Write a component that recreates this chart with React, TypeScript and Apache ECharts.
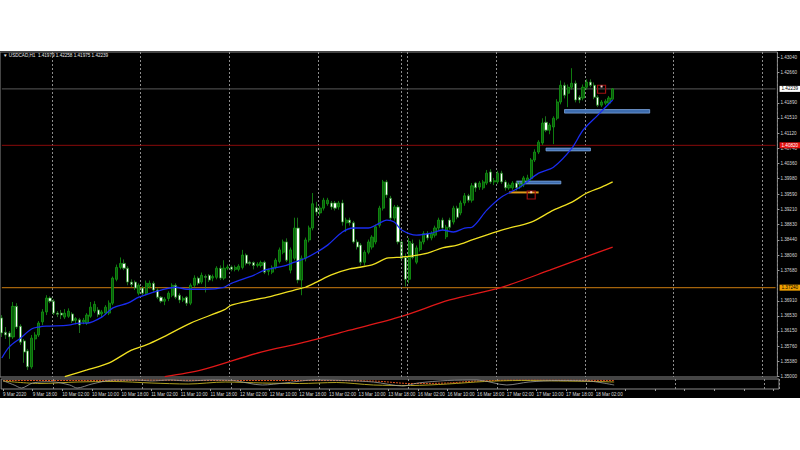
import React, { useEffect, useRef } from "react";
import * as echarts from "echarts";

const titleText = "▼ USDCAD,H1  1.41979 1.42258 1.41975 1.42239";
const timeLabels = ["9 Mar 2020", "9 Mar 18:00", "10 Mar 02:00", "10 Mar 10:00", "10 Mar 18:00", "11 Mar 02:00", "11 Mar 10:00", "11 Mar 18:00", "12 Mar 02:00", "12 Mar 10:00", "12 Mar 18:00", "13 Mar 02:00", "13 Mar 10:00", "13 Mar 18:00", "16 Mar 02:00", "16 Mar 10:00", "16 Mar 18:00", "17 Mar 02:00", "17 Mar 10:00", "17 Mar 18:00", "18 Mar 02:00"];
const priceTicks = [1.35, 1.3538, 1.3576, 1.3615, 1.3653, 1.3691, 1.3768, 1.3806, 1.3844, 1.3883, 1.3921, 1.3959, 1.3998, 1.4036, 1.4074, 1.4112, 1.4151, 1.4189, 1.4266, 1.4304];
const SLOTS = 210;

// [open, close, low, high]
const candles: number[][] = [
  [1.3648,1.3610,1.3600,1.3655],[1.3612,1.3605,1.3595,1.3625],[1.3610,1.3600,1.3545,1.3615],[1.3600,1.3677,1.3595,1.3688],
  [1.3677,1.3625,1.3620,1.3685],[1.3627,1.3587,1.3580,1.3632],[1.3590,1.3562,1.3535,1.3595],[1.3565,1.3525,1.3517,1.3570],
  [1.3525,1.3597,1.3520,1.3605],[1.3595,1.3605,1.3567,1.3612],[1.3605,1.3635,1.3600,1.3640],[1.3638,1.3663,1.3630,1.3670],
  [1.3663,1.3698,1.3655,1.3705],[1.3698,1.3690,1.3685,1.3702],[1.3690,1.3660,1.3655,1.3695],[1.3660,1.3657,1.3650,1.3665],
  [1.3660,1.3655,1.3645,1.3668],[1.3650,1.3660,1.3645,1.3670],[1.3652,1.3665,1.3648,1.3672],[1.3658,1.3640,1.3635,1.3662],
  [1.3642,1.3646,1.3632,1.3650],[1.3643,1.3630,1.3610,1.3648],[1.3638,1.3642,1.3632,1.3648],[1.3635,1.3655,1.3630,1.3660],
  [1.3652,1.3675,1.3648,1.3688],[1.3665,1.3682,1.3660,1.3690],[1.3668,1.3656,1.3650,1.3675],[1.3658,1.3663,1.3650,1.3668],
  [1.3660,1.3675,1.3655,1.3680],[1.3660,1.3685,1.3655,1.3692],[1.3685,1.3748,1.3680,1.3752],[1.3745,1.3775,1.3740,1.3782],
  [1.3775,1.3785,1.3770,1.3800],[1.3785,1.3773,1.3768,1.3795],[1.3773,1.3738,1.3730,1.3778],[1.3738,1.3732,1.3725,1.3745],
  [1.3738,1.3723,1.3718,1.3742],[1.3710,1.3730,1.3705,1.3735],[1.3723,1.3710,1.3705,1.3728],[1.3710,1.3735,1.3705,1.3742],
  [1.3727,1.3735,1.3722,1.3742],[1.3735,1.3718,1.3712,1.3740],[1.3718,1.3700,1.3695,1.3722],[1.3700,1.3690,1.3685,1.3703],
  [1.3690,1.3695,1.3680,1.3700],[1.3697,1.3710,1.3690,1.3715],[1.3705,1.3730,1.3700,1.3735],[1.3730,1.3700,1.3695,1.3735],
  [1.3705,1.3693,1.3685,1.3710],[1.3693,1.3697,1.3688,1.3702],[1.3700,1.3685,1.3678,1.3703],[1.3685,1.3730,1.3680,1.3735],
  [1.3730,1.3748,1.3725,1.3755],[1.3748,1.3735,1.3730,1.3752],[1.3738,1.3755,1.3733,1.3762],[1.3752,1.3750,1.3712,1.3757],
  [1.3755,1.3743,1.3738,1.3758],[1.3748,1.3752,1.3740,1.3757],[1.3750,1.3773,1.3745,1.3778],[1.3773,1.3748,1.3743,1.3780],
  [1.3748,1.3773,1.3743,1.3793],[1.3773,1.3776,1.3768,1.3782],[1.3776,1.3770,1.3765,1.3780],[1.3770,1.3775,1.3765,1.3780],
  [1.3770,1.3778,1.3765,1.3783],[1.3775,1.3806,1.3770,1.3819],[1.3806,1.3785,1.3780,1.3810],[1.3788,1.3785,1.3780,1.3792],
  [1.3787,1.3780,1.3770,1.3790],[1.3780,1.3783,1.3775,1.3788],[1.3780,1.3787,1.3775,1.3792],[1.3788,1.3763,1.3758,1.3792],
  [1.3765,1.3768,1.3755,1.3772],[1.3763,1.3775,1.3758,1.3780],[1.3775,1.3793,1.3770,1.3798],[1.3790,1.3819,1.3785,1.3825],
  [1.3813,1.3839,1.3808,1.3845],[1.3839,1.3793,1.3788,1.3848],[1.3768,1.3819,1.3760,1.3825],[1.3798,1.3874,1.3793,1.3900],
  [1.3874,1.3743,1.3735,1.3900],[1.3743,1.3798,1.3705,1.3805],[1.3798,1.3844,1.3790,1.3850],[1.3844,1.3874,1.3838,1.3880],
  [1.3874,1.3935,1.3868,1.3962],[1.3925,1.3914,1.3905,1.3940],[1.3912,1.3924,1.3905,1.3930],[1.3924,1.3944,1.3918,1.3950],
  [1.3935,1.3944,1.3930,1.3950],[1.3937,1.3927,1.3920,1.3942],[1.3937,1.3924,1.3918,1.3942],[1.3927,1.3937,1.3920,1.3942],
  [1.3937,1.3889,1.3880,1.3945],[1.3887,1.3894,1.3864,1.3900],[1.3894,1.3887,1.3880,1.3900],[1.3887,1.3839,1.3835,1.3892],
  [1.3839,1.3826,1.3820,1.3845],[1.3831,1.3788,1.3780,1.3836],[1.3788,1.3813,1.3780,1.3818],[1.3813,1.3839,1.3808,1.3845],
  [1.3826,1.3851,1.3820,1.3856],[1.3839,1.3877,1.3833,1.3883],[1.3881,1.3924,1.3875,1.3930],[1.3924,1.3990,1.3918,1.3995],
  [1.3990,1.3957,1.3950,1.3995],[1.3949,1.3899,1.3893,1.3955],[1.3899,1.3927,1.3893,1.3932],[1.3927,1.3839,1.3833,1.3932],
  [1.3839,1.3798,1.3790,1.3844],[1.3800,1.3745,1.3727,1.3810],[1.3745,1.3840,1.3735,1.3849],[1.3835,1.3800,1.3795,1.3845],
  [1.3788,1.3824,1.3783,1.3830],[1.3820,1.3839,1.3815,1.3845],[1.3839,1.3860,1.3833,1.3866],[1.3860,1.3849,1.3843,1.3866],
  [1.3849,1.3860,1.3843,1.3866],[1.3856,1.3874,1.3850,1.3880],[1.3874,1.3894,1.3868,1.3900],[1.3894,1.3874,1.3868,1.3900],
  [1.3852,1.3876,1.3846,1.3882],[1.3894,1.3876,1.3870,1.3900],[1.3889,1.3924,1.3883,1.3930],[1.3924,1.3901,1.3896,1.3930],
  [1.3912,1.3937,1.3906,1.3943],[1.3937,1.3955,1.3930,1.3962],[1.3955,1.3944,1.3938,1.3960],[1.3944,1.3980,1.3938,1.3987],
  [1.3987,1.3975,1.3965,1.3990],[1.3977,1.3987,1.3970,1.3992],[1.3975,1.3990,1.3970,1.3995],[1.3987,1.4012,1.3982,1.4020],
  [1.4015,1.3990,1.3985,1.4022],[1.3990,1.3993,1.3982,1.4000],[1.3990,1.4012,1.3985,1.4018],[1.4012,1.3990,1.3985,1.4018],
  [1.3990,1.3975,1.3968,1.3995],[1.3975,1.3982,1.3970,1.3988],[1.3975,1.3987,1.3970,1.3992],[1.3987,1.3975,1.3968,1.3992],
  [1.3977,1.3985,1.3972,1.3990],[1.3982,1.4000,1.3977,1.4005],[1.3993,1.4000,1.3988,1.4008],[1.3998,1.4045,1.3993,1.4050],
  [1.4045,1.4065,1.4040,1.4072],[1.4065,1.4090,1.4060,1.4095],[1.4088,1.4138,1.4083,1.4150],[1.4140,1.4120,1.4115,1.4155],
  [1.4120,1.4133,1.4110,1.4138],[1.4128,1.4150,1.4085,1.4155],[1.4150,1.4191,1.4145,1.4198],[1.4191,1.4233,1.4185,1.4245],
  [1.4233,1.4208,1.4200,1.4240],[1.4213,1.4228,1.4178,1.4235],[1.4228,1.4238,1.4222,1.4276],[1.4238,1.4196,1.4190,1.4245],
  [1.4203,1.4196,1.4188,1.4208],[1.4201,1.4228,1.4195,1.4235],[1.4228,1.4241,1.4222,1.4248],[1.4241,1.4233,1.4228,1.4248],
  [1.4233,1.4203,1.4198,1.4240],[1.4203,1.4183,1.4178,1.4208],[1.4183,1.4191,1.4178,1.4196],[1.4188,1.4193,1.4183,1.4198],
  [1.4188,1.4201,1.4183,1.4206],[1.41979,1.42239,1.41975,1.42258]
];

// moving averages: [bar index, price]
const maBlue = [[0,1.3547],[2,1.3575],[5,1.3597],[8,1.3620],[10,1.3625],[12,1.3627],[18,1.3630],[21,1.3635],[23,1.3635],[27,1.3650],[30,1.3673],[34,1.3685],[37,1.3700],[41,1.3713],[43,1.3718],[47,1.3725],[50,1.3720],[55,1.3720],[60,1.3725],[62,1.3735],[68,1.3755],[71,1.3768],[76,1.3778],[79,1.3788],[82,1.3798],[85,1.3813],[88,1.3831],[92,1.3864],[95,1.3874],[99,1.3874],[101,1.3881],[104,1.3894],[106,1.3889],[108,1.3869],[112,1.3856],[116,1.3861],[119,1.3869],[122,1.3864],[125,1.3874],[127,1.3876],[131,1.3919],[135,1.3952],[140,1.3977],[145,1.4012],[149,1.4027],[154,1.4075],[157,1.4120],[161,1.4158],[165,1.4196]];
const maYellow = [[17,1.3500],[23,1.3517],[29,1.3535],[35,1.3567],[39,1.3580],[43,1.3597],[51,1.3635],[60,1.3668],[62,1.3680],[68,1.3693],[73,1.3703],[79,1.3718],[82,1.3725],[85,1.3738],[89,1.3756],[94,1.3771],[100,1.3781],[104,1.3798],[108,1.3801],[111,1.3804],[115,1.3811],[119,1.3824],[123,1.3831],[127,1.3844],[135,1.3869],[143,1.3889],[149,1.3919],[154,1.3939],[158,1.3962],[162,1.3977],[165,1.3990]];
const maRed = [[44,1.3500],[54,1.3517],[70,1.3562],[81,1.3585],[94,1.3617],[108,1.3652],[121,1.3693],[135,1.3725],[148,1.3768],[159,1.3806],[165,1.3826]];

// lower pane oscillator: [bar index, value 0..100]
const oscGray = [[0,83],[3,40],[5,10],[8,60],[13,73],[18,40],[20,10],[24,50],[30,90],[36,90],[40,80],[45,90],[50,80],[56,90],[62,85],[70,40],[76,60],[84,90],[92,85],[100,70],[108,30],[112,60],[120,85],[128,90],[136,40],[142,70],[150,85],[158,80],[165,40]];
const oscOlive = [[0,80],[10,55],[20,70],[30,75],[40,60],[50,50],[60,70],[70,60],[80,55],[90,65],[100,40],[110,35],[120,50],[130,75],[140,85],[150,80],[160,75],[165,70]];
const oscRed = [[0,85],[20,85],[40,88],[60,85],[80,85],[100,80],[110,55],[120,60],[128,80],[140,88],[165,85]];

const bidPrice = 1.42239;
const redLevel = 1.40820;
const orangeLevel = 1.37240;

const FONT = "Liberation Sans";

export default function App() {
  const ref = useRef<HTMLDivElement>(null);
  useEffect(() => {
    if (!ref.current) return;
    const chart = echarts.init(ref.current, undefined, { renderer: "svg" });
    const cats = Array.from({ length: SLOTS }, (_, i) => String(i));
    const txt = { fontFamily: FONT, fontSize: 4.6, color: "#d8d8d8" };
    const blueBar = { color: "#3d6cae", borderColor: "#7aa3dc", borderWidth: 0.8 };
    const redBox = { color: "rgba(0,0,0,0)", borderColor: "#a01010", borderWidth: 1.2 };
    const splitIv = (i: number) => i >= 14 && (i - 14) % 24 === 0;
    const levelSeries = (value: number, color: string, width: number, bg: string, fg: string) => ({
      type: "line", xAxisIndex: 0, yAxisIndex: 0, z: 1, silent: true, showSymbol: false,
      data: [[0, value], [SLOTS - 1, value]],
      lineStyle: { color, width, type: "solid" },
      endLabel: {
        show: true, distance: 4, formatter: () => value.toFixed(5),
        backgroundColor: bg, color: fg, fontFamily: FONT, fontSize: 4.6, padding: [1, 2, 0, 2],
      },
    });
    chart.setOption({
      animation: false,
      backgroundColor: "transparent",
      graphic: [
        { type: "text", left: 3, top: 53, style: { text: titleText, fill: "#e8e8e8", fontFamily: FONT, fontSize: 4.6 } },
      ],
      grid: [
        { left: 0, top: 52, width: 779, height: 325, show: true, borderColor: "#8a8a8a", borderWidth: 1, backgroundColor: "transparent" },
        { left: 0, top: 379, width: 779, height: 10, show: true, borderColor: "#8a8a8a", borderWidth: 1, backgroundColor: "transparent" },
      ],
      xAxis: [
        {
          type: "category", gridIndex: 0, data: cats, boundaryGap: true,
          axisLabel: { show: false }, axisTick: { show: false }, axisLine: { show: false },
          splitLine: { show: true, interval: splitIv, lineStyle: { color: "#8c8c8c", type: [2, 2], width: 1 } },
        },
        {
          type: "category", gridIndex: 1, data: cats, boundaryGap: true,
          axisLine: { show: false },
          axisTick: { show: true, interval: 7, alignWithLabel: true, length: 2, lineStyle: { color: "#9a9a9a" } },
          axisLabel: { ...txt, interval: 7, align: "left", margin: 3, formatter: (_v: string, idx: number) => timeLabels[idx / 8] ?? "" },
          splitLine: { show: true, interval: splitIv, lineStyle: { color: "#8c8c8c", type: [2, 2], width: 1 } },
        },
      ],
      yAxis: [
        {
          type: "value", gridIndex: 0, position: "right", min: 1.34993, max: 1.43167,
          axisLine: { show: false }, splitLine: { show: false },
          axisTick: { show: true, length: 2, customValues: priceTicks, lineStyle: { color: "#9a9a9a" } },
          axisLabel: { ...txt, margin: 3, customValues: priceTicks, formatter: (v: number) => v.toFixed(5) },
        },
        {
          type: "value", gridIndex: 1, position: "right", min: 0, max: 100,
          axisLine: { show: false }, splitLine: { show: false }, axisTick: { show: false },
          axisLabel: { show: false },
        },
      ],
      series: [
        levelSeries(bidPrice, "#5a5a5a", 1, "#ffffff", "#000000"),
        levelSeries(redLevel, "#8a0a0a", 1, "#e41010", "#ffffff"),
        levelSeries(orangeLevel, "#a5640c", 1.3, "#f0a000", "#000000"),
        {
          type: "line", xAxisIndex: 0, yAxisIndex: 0, data: maRed, showSymbol: false, smooth: 0.3, z: 1,
          lineStyle: { color: "#e01818", width: 1.3 },
          markLine: {
            symbol: "none", silent: true, precision: 5,
            data: [{ xAxis: "108", lineStyle: { color: "#8c8c8c", width: 1, type: [2, 2] }, label: { show: false } }],
          },
        },
        {
          type: "candlestick", xAxisIndex: 0, yAxisIndex: 0, data: candles, barWidth: 2.6, z: 2,
          itemStyle: { color: "#0a5e0a", borderColor: "#139a13", color0: "#ffffff", borderColor0: "#228a22", borderWidth: 0.8 },
          markArea: {
            silent: true,
            data: [
              [{ coord: ["152", 1.4172], itemStyle: blueBar }, { coord: ["175", 1.4163] }],
              [{ coord: ["147", 1.4075], itemStyle: blueBar }, { coord: ["159", 1.4068] }],
              [{ coord: ["139", 1.3992], itemStyle: blueBar }, { coord: ["151", 1.3985] }],
              [{ coord: ["137", 1.3966], itemStyle: { color: "#e09a1a" } }, { coord: ["145", 1.3961] }],
            ],
          },
          markPoint: {
            silent: true,
            data: [
              { coord: ["143", 1.3957], symbol: "rect", symbolSize: 8, itemStyle: redBox, label: { show: false } },
              { coord: ["162", 1.4223], symbol: "rect", symbolSize: 8, itemStyle: redBox, label: { show: false } },
              { coord: ["143", 1.3964], symbol: "rect", symbolSize: [2, 2], itemStyle: { color: "#ffd0d0" }, label: { show: false } },
              { coord: ["162", 1.4230], symbol: "rect", symbolSize: [2, 2], itemStyle: { color: "#ffd0d0" }, label: { show: false } },
            ],
          },
        },
        { type: "line", xAxisIndex: 0, yAxisIndex: 0, data: maYellow, showSymbol: false, smooth: 0.3, z: 3, lineStyle: { color: "#f0e020", width: 1.3 } },
        { type: "line", xAxisIndex: 0, yAxisIndex: 0, data: maBlue, showSymbol: false, smooth: 0.3, z: 3, lineStyle: { color: "#1a2cf0", width: 1.3 } },
        { type: "line", xAxisIndex: 1, yAxisIndex: 1, data: oscRed, showSymbol: false, smooth: 0.3, lineStyle: { color: "#e0501a", width: 1, type: [2, 1] } },
        { type: "line", xAxisIndex: 1, yAxisIndex: 1, data: oscOlive, showSymbol: false, smooth: 0.3, lineStyle: { color: "#b0a020", width: 1 } },
        { type: "line", xAxisIndex: 1, yAxisIndex: 1, data: oscGray, showSymbol: false, smooth: 0.3, lineStyle: { color: "#a0a0a0", width: 0.8 } },
      ],
    });
    return () => chart.dispose();
  }, []);
  return (
    <div style={{ position: "fixed", left: 0, top: 0, width: 800, height: 450, background: "#ffffff" }}>
      <div style={{ position: "absolute", left: 0, top: 51, width: 800, height: 347, background: "#000000" }} />
      <div ref={ref} style={{ position: "absolute", left: 0, top: 0, width: 800, height: 450 }} />
    </div>
  );
}
